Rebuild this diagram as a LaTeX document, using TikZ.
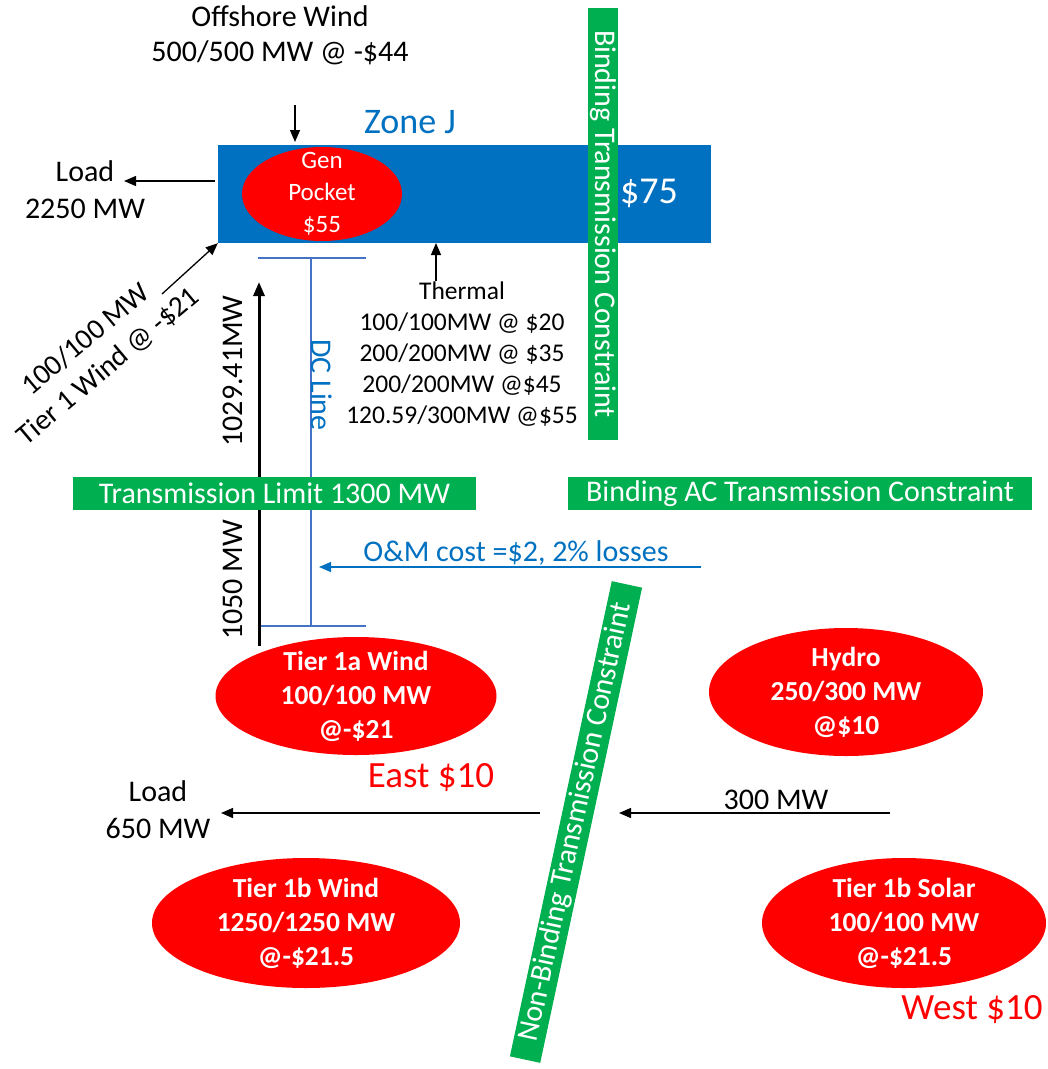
\documentclass[tikz,border=0pt]{standalone}
\usepackage{fontspec}
\setmainfont{Carlito}
\usetikzlibrary{shapes.geometric,arrows.meta}
\definecolor{zblue}{RGB}{0,112,192}
\definecolor{grn}{RGB}{0,176,80}
\definecolor{dcblue}{RGB}{68,114,196}
\begin{document}
\begin{tikzpicture}[x=1pt,y=-1pt,
  lbl/.style={font=\fontsize{30}{35}\selectfont, align=center, inner sep=0},
  arr/.style={line width=1.3pt, -{Triangle[length=12pt,width=10pt]}},
  bar/.style={fill=grn, text=white, inner sep=0, font=\fontsize{30}{35}\selectfont},
  gen/.style={ellipse, fill=red, inner sep=0},
  gentext/.style={text=white, font=\bfseries\fontsize{27.5}{34}\selectfont, align=center, inner sep=0},
  dcl/.style={draw=dcblue, line width=2pt}
]
\useasboundingbox (0,0) rectangle (1048,1069);

% Zone J
\node[fill=zblue, minimum width=493, minimum height=98, inner sep=0] (zone) at (464.5,194) {};
\node[lbl, text=zblue, font=\fontsize{36}{40}\selectfont] (zonelbl) at (410,122) {Zone J};
\node[gen, minimum width=160, minimum height=94] (gp) at (322,194) {};
\node[gentext, font=\fontsize{25}{32}\selectfont] (gptxt) at (gp.center) {Gen\\Pocket\\\$55};
\node[lbl, text=white, font=\fontsize{38}{40}\selectfont] (p75) at (649,193) {\$75};

% vertical binding bar
\node[bar, minimum width=432, minimum height=30, rotate=-90] (bindv) at (603,224) {Binding Transmission Constraint};

% offshore wind
\node[lbl] (off) at (280,35) {Offshore Wind\\500/500 MW @ -\$44};
\coordinate (offs) at (295,105);
\coordinate (offe) at (295,142);
\draw[arr] (offs) -- (offe);

% load 2250
\node[lbl, font=\fontsize{30}{37}\selectfont] (load1) at (85,190) {Load\\2250 MW};
\coordinate (l1s) at (215,181);
\coordinate (l1e) at (124,181);
\draw[arr] (l1s) -- (l1e);

% tier 1 wind diagonal
\node[lbl, rotate=40, font=\fontsize{29}{35}\selectfont] (t1w) at (97,353) {100/100 MW\\Tier 1 Wind @ -\$21};
\coordinate (t1ws) at (162,294);
\draw[arr] (t1ws) -- (zone.south west);

% thermal
\node[lbl, font=\fontsize{25.5}{31}\selectfont] (therm) at (462,354) {Thermal\\100/100MW @ \$20\\200/200MW @ \$35\\200/200MW @\$45\\120.59/300MW @\$55};
\coordinate (ths) at (436,281);
\coordinate (the) at (436,243);
\draw[arr] (ths) -- (the);

% DC line
\coordinate (dct1) at (258,258);
\coordinate (dct2) at (366,258);
\coordinate (dctm) at (311,258);
\coordinate (dcb1) at (258,626);
\coordinate (dcb2) at (366,626);
\coordinate (dcbm) at (311,626);
\draw[dcl] (dct1) -- (dct2);
\draw[dcl] (dcb1) -- (dcb2);
\draw[dcl] (dctm) -- (dcbm);
\node[lbl, text=zblue, rotate=-90] (dclbl) at (322,385) {DC Line};

% flow arrow
\coordinate (fs) at (259,646);
\coordinate (fe) at (259,282);
\draw[line width=3pt, -{Triangle[length=14pt,width=11pt]}] (fs) -- (fe);
\node[lbl, rotate=90] (f1) at (233,371) {1029.41MW};
\node[lbl, rotate=90] (f2) at (233,580) {1050 MW};

% horizontal bars
\node[bar, minimum width=403, minimum height=33] (tlim) at (274.5,493.5) {Transmission Limit 1300 MW};
\node[bar, minimum width=464, minimum height=33] (bac) at (800,493.5) {Binding AC Transmission Constraint};

% O&M
\node[lbl, text=zblue] (om) at (516,553) {O\&M cost =\$2, 2\% losses};
\coordinate (oms) at (701,567);
\coordinate (ome) at (319,567);
\draw[arr, draw=zblue] (oms) -- (ome);

% tilted bar
\node[bar, minimum width=486, minimum height=31, rotate=77.9] (nonb) at (576,822) {Non-Binding Transmission Constraint};

% generators
\node[gen, minimum width=281, minimum height=118] (t1a) at (356,696) {};
\node[gentext] (t1atxt) at (t1a.center) {Tier 1a Wind\\100/100 MW\\@-\$21};
\node[gen, minimum width=274, minimum height=128] (hyd) at (846,692) {};
\node[gentext] (hydtxt) at (hyd.center) {Hydro\\250/300 MW\\@\$10};
\node[gen, minimum width=308, minimum height=130] (t1b) at (306,923) {};
\node[gentext] (t1btxt) at (t1b.center) {Tier 1b Wind\\1250/1250 MW\\@-\$21.5};
\node[gen, minimum width=284, minimum height=130] (sol) at (904,923) {};
\node[gentext] (soltxt) at (sol.center) {Tier 1b Solar\\100/100 MW\\@-\$21.5};

% zone prices
\node[lbl, text=red, font=\fontsize{37}{40}\selectfont] (east) at (431,778) {East \$10};
\node[lbl, text=red, font=\fontsize{37}{40}\selectfont] (west) at (972,1010) {West \$10};

% load 650
\node[lbl, font=\fontsize{30}{37}\selectfont] (load2) at (158,810) {Load\\650 MW};
\coordinate (l2s) at (540,813);
\coordinate (l2e) at (221,813);
\draw[arr] (l2s) -- (l2e);

% 300 MW
\node[lbl] (m300) at (776,800) {300 MW};
\coordinate (m3s) at (890,813);
\coordinate (m3e) at (619,813);
\draw[arr] (m3s) -- (m3e);
\end{tikzpicture}
\end{document}
